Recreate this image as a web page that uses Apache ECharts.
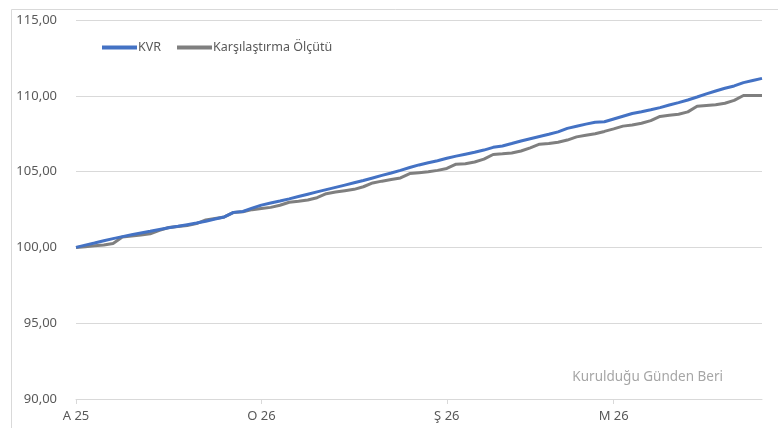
<!DOCTYPE html>
<html>
<head>
<meta charset="utf-8">
<script src="https://cdn.jsdelivr.net/npm/echarts@6/dist/echarts.min.js"></script>
<style>
html,body{margin:0;padding:0;background:#fff;}
#chart{width:778px;height:428px;}
</style>
</head>
<body>
<div id="chart"></div>
<script>
var seriesNames = ['KVR', 'Karşılaştırma Ölçütü'];
var tickLabels = ['A 25', 'O 26', 'Ş 26', 'M 26'];
var tickIndex = [0, 20, 40, 58];
var kvr = [
100.00,100.15,100.29,100.44,100.58,100.71,100.83,100.95,101.06,101.18,
101.29,101.39,101.50,101.61,101.73,101.87,102.01,102.31,102.37,102.59,
102.79,102.93,103.06,103.20,103.36,103.51,103.66,103.81,103.96,104.11,
104.26,104.41,104.58,104.75,104.91,105.08,105.27,105.44,105.58,105.72,
105.88,106.02,106.15,106.28,106.42,106.60,106.69,106.85,107.02,107.17,
107.32,107.46,107.62,107.85,107.99,108.13,108.25,108.29,108.47,108.65,
108.83,108.95,109.08,109.22,109.39,109.55,109.72,109.92,110.13,110.32,
110.50,110.65,110.87,111.01,111.15
];
var benchmark = [
100.00,100.05,100.11,100.16,100.26,100.68,100.75,100.82,100.90,101.12,
101.31,101.38,101.45,101.57,101.81,101.91,102.01,102.31,102.35,102.49,
102.57,102.64,102.78,102.98,103.05,103.13,103.28,103.54,103.65,103.74,
103.83,104.00,104.25,104.37,104.48,104.58,104.87,104.93,104.99,105.08,
105.21,105.49,105.52,105.63,105.82,106.13,106.17,106.23,106.36,106.57,
106.81,106.85,106.94,107.08,107.29,107.40,107.50,107.65,107.82,108.00,
108.07,108.19,108.36,108.64,108.71,108.78,108.94,109.31,109.36,109.41,
109.51,109.70,110.02,110.02,110.02
];
var categories = kvr.map(function (v, i) {
  var k = tickIndex.indexOf(i);
  return k >= 0 ? tickLabels[k] : String(i);
});
function isTick(i) { return tickIndex.indexOf(i) >= 0; }

var chart = echarts.init(document.getElementById('chart'));
var font = 'Noto Sans';
chart.setOption({
  animation: false,
  backgroundColor: '#ffffff',
  graphic: [{
    type: 'rect', left: 9, top: 7, silent: true,
    shape: { width: 820, height: 480 },
    style: { fill: 'none', stroke: '#d9d9d9', lineWidth: 1 }
  }],
  title: {
    text: 'Kurulduğu Günden Beri',
    right: 50, top: 365,
    textStyle: { color: '#a6a6a6', fontSize: 13.5, fontWeight: 'normal', fontFamily: font }
  },
  legend: {
    left: 102, top: 41, padding: 0,
    itemWidth: 35, itemHeight: 4, itemGap: 16,
    icon: 'rect',
    data: seriesNames,
    textStyle: { color: '#595959', fontSize: 12.5, fontFamily: font, padding: [0, 0, 0, -4] }
  },
  grid: { left: 76, right: 16, top: 20, bottom: 29, containLabel: false },
  xAxis: {
    type: 'category',
    boundaryGap: false,
    data: categories,
    axisLine: { lineStyle: { color: '#d9d9d9', width: 1 } },
    axisTick: { show: true, interval: function (i) { return isTick(i); }, length: 5, lineStyle: { color: '#d9d9d9' } },
    axisLabel: {
      interval: function (i) { return isTick(i); },
      color: '#595959', fontSize: 13, fontFamily: font, margin: 11
    },
    splitLine: { show: false }
  },
  yAxis: {
    type: 'value',
    min: 90, max: 115, interval: 5,
    axisLine: { show: false },
    axisTick: { show: false },
    axisLabel: {
      color: '#595959', fontSize: 13, fontFamily: font, margin: 19,
      formatter: function (v) { return v.toFixed(2).replace('.', ','); }
    },
    splitLine: { lineStyle: { color: '#d9d9d9', width: 1 } }
  },
  series: [
    {
      name: seriesNames[0], type: 'line', data: kvr,
      showSymbol: false, symbol: 'none',
      lineStyle: { color: '#4472c4', width: 3 },
      itemStyle: { color: '#4472c4' },
      z: 3
    },
    {
      name: seriesNames[1], type: 'line', data: benchmark,
      showSymbol: false, symbol: 'none',
      lineStyle: { color: '#7f7f7f', width: 3 },
      itemStyle: { color: '#7f7f7f' },
      z: 2
    }
  ]
});
</script>
</body>
</html>
